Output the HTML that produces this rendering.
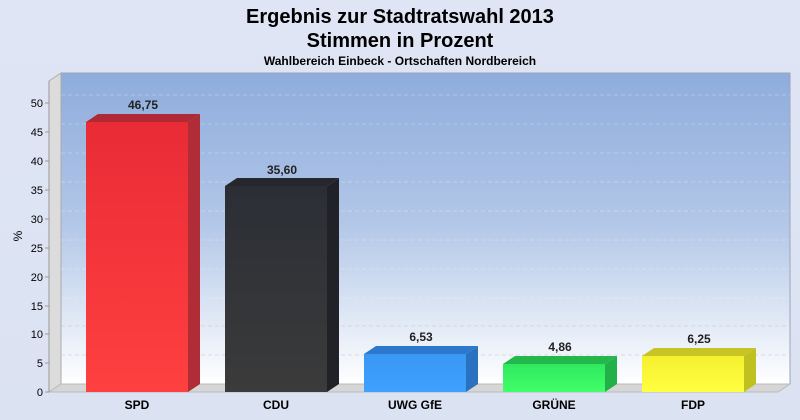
<!DOCTYPE html><html><head><style>body{margin:0;background:#dde3f3}svg{display:block}text{font-family:"Liberation Sans",sans-serif}</style></head><body>
<svg width="800" height="420" viewBox="0 0 800 420">
<defs>
<linearGradient id="bg" x1="0" y1="0" x2="0" y2="1"><stop offset="0" stop-color="#dfe5f4"/><stop offset="1" stop-color="#dbe2f2"/></linearGradient>
<linearGradient id="wall" x1="0" y1="0" x2="0" y2="1"><stop offset="0" stop-color="#8eacdc"/><stop offset="0.5" stop-color="#b4c8e8"/><stop offset="1" stop-color="#ffffff"/></linearGradient>
<linearGradient id="r" x1="0" y1="0" x2="0" y2="1"><stop offset="0" stop-color="#e92b36"/><stop offset="1" stop-color="#ff4040"/></linearGradient>
<linearGradient id="k" x1="0" y1="0" x2="0" y2="1"><stop offset="0" stop-color="#2b2e35"/><stop offset="1" stop-color="#3b3b3b"/></linearGradient>
<linearGradient id="b" x1="0" y1="0" x2="0" y2="1"><stop offset="0" stop-color="#3898f2"/><stop offset="1" stop-color="#40a0ff"/></linearGradient>
<linearGradient id="g" x1="0" y1="0" x2="0" y2="1"><stop offset="0" stop-color="#30e860"/><stop offset="1" stop-color="#40ff68"/></linearGradient>
<linearGradient id="y" x1="0" y1="0" x2="0" y2="1"><stop offset="0" stop-color="#f4f030"/><stop offset="1" stop-color="#ffff40"/></linearGradient>
</defs>
<rect width="800" height="420" fill="url(#bg)"/>
<text x="400" y="23" text-anchor="middle" font-size="20" font-weight="bold" fill="#000">Ergebnis zur Stadtratswahl 2013</text>
<text x="400" y="47" text-anchor="middle" font-size="20" font-weight="bold" fill="#000">Stimmen in Prozent</text>
<text x="400" y="65" text-anchor="middle" font-size="12" font-weight="bold" fill="#000">Wahlbereich Einbeck - Ortschaften Nordbereich</text>
<rect x="61" y="73" width="729" height="311" fill="url(#wall)" stroke="#9aa6b8" stroke-width="1"/>
<polygon points="49,81 61,73 61,384 49,392" fill="#dcdcdc" stroke="#aaa"/>
<polygon points="49,392 61,384 790,384 778,392" fill="#d6d6d6" stroke="#bbb"/>
<g stroke="#ffffff" stroke-opacity="0.25" stroke-dasharray="4,3" stroke-width="1">
<line x1="61" y1="95" x2="790" y2="95"/><line x1="61" y1="124" x2="790" y2="124"/><line x1="61" y1="153" x2="790" y2="153"/><line x1="61" y1="182" x2="790" y2="182"/><line x1="61" y1="211" x2="790" y2="211"/><line x1="61" y1="240" x2="790" y2="240"/><line x1="61" y1="269" x2="790" y2="269"/><line x1="61" y1="298" x2="790" y2="298"/></g>
<g stroke="#c8ccd4" stroke-opacity="0.6" stroke-dasharray="4,3" stroke-width="1"><line x1="61" y1="326" x2="790" y2="326"/><line x1="61" y1="355" x2="790" y2="355"/>
</g>
<line x1="49" y1="81" x2="49" y2="392" stroke="#999"/>
<g font-size="11" fill="#000" text-anchor="end">
<text x="43" y="107">50</text><text x="43" y="136">45</text><text x="43" y="165">40</text><text x="43" y="194">35</text><text x="43" y="223">30</text><text x="43" y="252">25</text><text x="43" y="281">20</text><text x="43" y="310">15</text><text x="43" y="338">10</text><text x="43" y="367">5</text><text x="43" y="396">0</text>
</g>
<g stroke="#999"><line x1="45" y1="103" x2="49" y2="103"/><line x1="45" y1="132" x2="49" y2="132"/><line x1="45" y1="161" x2="49" y2="161"/><line x1="45" y1="190" x2="49" y2="190"/><line x1="45" y1="219" x2="49" y2="219"/><line x1="45" y1="248" x2="49" y2="248"/><line x1="45" y1="277" x2="49" y2="277"/><line x1="45" y1="306" x2="49" y2="306"/><line x1="45" y1="334" x2="49" y2="334"/><line x1="45" y1="363" x2="49" y2="363"/><line x1="45" y1="392" x2="49" y2="392"/></g>
<text x="22" y="236" font-size="12" transform="rotate(-90 22 236)" text-anchor="middle">%</text>
<g>
<rect x="86" y="122" width="102" height="270" fill="url(#r)"/><polygon points="188,122 200,114 200,384 188,392" fill="#b02c36"/><polygon points="86,122 98,114 200,114 188,122" fill="#b02a36"/>
<rect x="225" y="186" width="102" height="206" fill="url(#k)"/><polygon points="327,186 339,178 339,384 327,392" fill="#202228"/><polygon points="225,186 237,178 339,178 327,186" fill="#25272d"/>
<rect x="364" y="354" width="102" height="38" fill="url(#b)"/><polygon points="466,354 478,346 478,384 466,392" fill="#2a72c0"/><polygon points="364,354 376,346 478,346 466,354" fill="#2c78cc"/>
<rect x="503" y="364" width="102" height="28" fill="url(#g)"/><polygon points="605,364 617,356 617,384 605,392" fill="#22b048"/><polygon points="503,364 515,356 617,356 605,364" fill="#24b84a"/>
<rect x="642" y="356" width="102" height="36" fill="url(#y)"/><polygon points="744,356 756,348 756,384 744,392" fill="#c0c020"/><polygon points="642,356 654,348 756,348 744,356" fill="#c8c424"/>
</g>
<g font-size="12" font-weight="bold" fill="#222" text-anchor="middle">
<text x="143" y="109">46,75</text><text x="282" y="174">35,60</text><text x="421" y="341">6,53</text><text x="560" y="351">4,86</text><text x="699" y="343">6,25</text>
</g>
<g font-size="12" font-weight="bold" fill="#000" text-anchor="middle">
<text x="137" y="409">SPD</text><text x="276" y="409">CDU</text><text x="415" y="409">UWG GfE</text><text x="554" y="409">GRÜNE</text><text x="693" y="409">FDP</text>
</g>
</svg></body></html>
